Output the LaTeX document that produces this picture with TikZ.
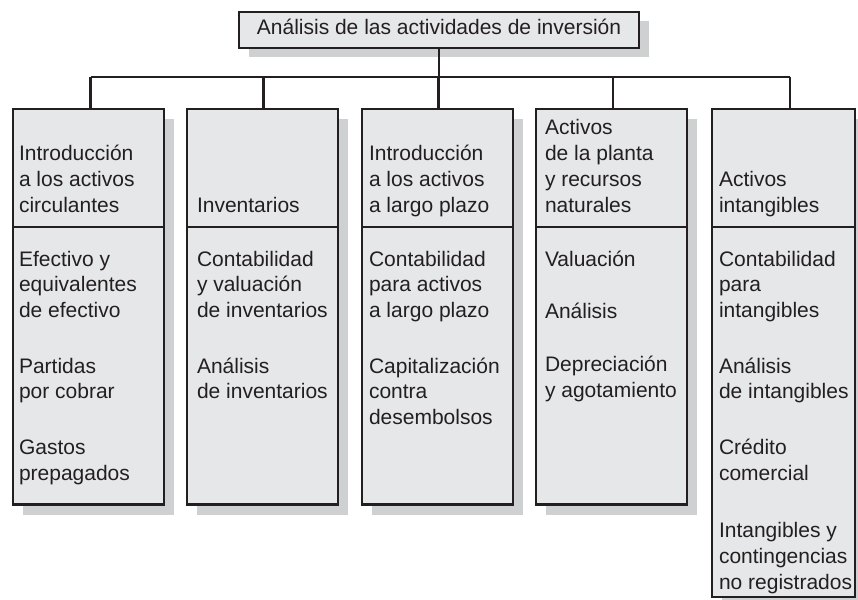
\documentclass[tikz,border=0pt]{standalone}
\usepackage{fontspec}
\setmainfont{Liberation Sans}
\usetikzlibrary{backgrounds,calc}
\definecolor{boxfill}{HTML}{E6E7E8}
\definecolor{shadowc}{HTML}{CFD0D2}
\definecolor{ink}{HTML}{231F20}
\begin{document}
\begin{tikzpicture}[x=1pt,y=-1pt,
  every node/.style={inner sep=0pt, outer sep=0pt},
  panel/.style={draw=ink, line width=2.7pt, fill=boxfill, anchor=north west},
  conn/.style={draw=ink, line width=2.7pt},
  headtxt/.style={anchor=north west, align=left, text=ink, font=\fontsize{21pt}{26pt}\selectfont},
  bodytxt/.style={anchor=north west, align=left, text=ink, font=\fontsize{21pt}{25.7pt}\selectfont},
  shade/.style={fill=shadowc}]
\useasboundingbox (0,0) rectangle (858,599);

% top box
\node[draw=ink, line width=2.7pt, fill=boxfill, minimum width=400pt, minimum height=36pt,
      text height=15pt, text depth=5pt, text=ink, font=\fontsize{21pt}{26pt}\selectfont]
  (top) at (439,30) {Análisis de las actividades de inversión};

% column boxes
\node[panel, minimum width=151pt, minimum height=118pt] (h1) at (13,109) {};
\node[panel, minimum width=151pt, minimum height=277.5pt] (b1) at (h1.south west) {};
\node[panel, minimum width=151pt, minimum height=118pt] (h2) at (187,109) {};
\node[panel, minimum width=151pt, minimum height=277.5pt] (b2) at (h2.south west) {};
\node[panel, minimum width=151pt, minimum height=118pt] (h3) at (362,109) {};
\node[panel, minimum width=151pt, minimum height=277.5pt] (b3) at (h3.south west) {};
\node[panel, minimum width=151pt, minimum height=118pt] (h4) at (536,109) {};
\node[panel, minimum width=151pt, minimum height=277.5pt] (b4) at (h4.south west) {};
\node[panel, minimum width=143pt, minimum height=118pt] (h5) at (712,109) {};
\node[panel, minimum width=143pt, minimum height=370pt] (b5) at (h5.south west) {};

% shadows
\begin{scope}[on background layer]
  \fill[shade] ($(top.north west)+(10,9)$) rectangle ($(top.south east)+(10,9)$);
  \foreach \i in {1,...,5}{
    \fill[shade] ($(h\i.north west)+(10,10)$) rectangle ($(b\i.south east)+(10,10)$);
  }
\end{scope}

% header texts
\node[headtxt] (t1) at (19,140) {\rule{0pt}{20pt}Introducción\\a los activos\\circulantes};
\node[headtxt] (t2) at (197,192) {\rule{0pt}{20pt}Inventarios};
\node[headtxt] (t3) at (369,140) {\rule{0pt}{20pt}Introducción\\a los activos\\a largo plazo};
\node[headtxt] (t4) at (545,114) {\rule{0pt}{20pt}Activos\\de la planta\\y recursos\\naturales};
\node[headtxt] (t5) at (719,166.5) {\rule{0pt}{20pt}Activos\\intangibles};

% body texts
\node[bodytxt] (s1) at (19,246) {\rule{0pt}{20pt}Efectivo y\\equivalentes\\de efectivo\\[30pt]Partidas\\por cobrar\\[30pt]Gastos\\prepagados};
\node[bodytxt] (s2) at (197,246) {\rule{0pt}{20pt}Contabilidad\\y valuación\\de inventarios\\[30pt]Análisis\\de inventarios};
\node[bodytxt] (s3) at (369,246) {\rule{0pt}{20pt}Contabilidad\\para activos\\a largo plazo\\[30pt]Capitalización\\contra\\desembolsos};
\node[bodytxt] (s4) at (545,246) {\rule{0pt}{20pt}Valuación\\[27pt]Análisis\\[27pt]Depreciación\\y agotamiento};
\node[bodytxt] (s5) at (719,246) {\rule{0pt}{20pt}Contabilidad\\para\\intangibles\\[30pt]Análisis\\de intangibles\\[30pt]Crédito\\comercial\\[32pt]Intangibles y\\contingencias\\no registrados};

% connectors
\coordinate (bus) at ($(top.south)+(0,29)$);
\coordinate (d1) at ([xshift=2pt]h1.north);
\coordinate (d2) at ([xshift=1pt]h2.north);
\coordinate (d3) at ([xshift=1pt]h3.north);
\coordinate (d4) at ([xshift=1.5pt]h4.north);
\coordinate (d5) at ([xshift=6.5pt]h5.north);
\draw[conn] (top.south) -- (bus);
\draw[conn] (d1 |- bus) -- (d5 |- bus);
\foreach \i in {1,...,5}{
  \draw[conn] (d\i |- bus) -- (d\i);
}
\end{tikzpicture}
\end{document}
